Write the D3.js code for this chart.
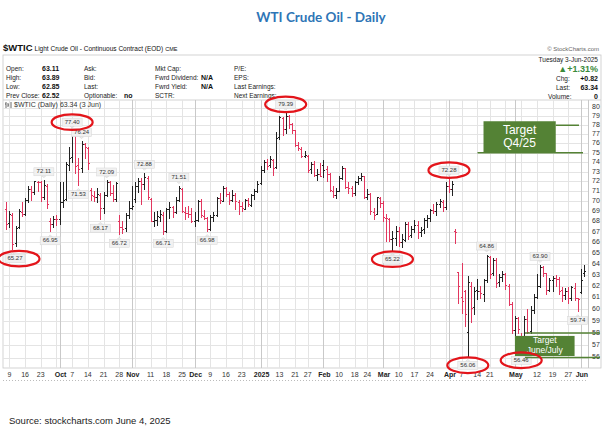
<!DOCTYPE html>
<html>
<head>
<meta charset="utf-8">
<script src="https://cdn.jsdelivr.net/npm/d3@7"></script>
<style>
  body { margin: 0; background: #fff; }
  svg text { font-family: "Liberation Sans", Arial, sans-serif; }
</style>
</head>
<body>
<div id="chart"></div>
<script>
// ---- data ($WTIC daily OHLC) ----
const dates = [
  "2024-09-06","2024-09-09","2024-09-10","2024-09-11","2024-09-12","2024-09-13","2024-09-16","2024-09-17","2024-09-18","2024-09-19","2024-09-20",
  "2024-09-23","2024-09-24","2024-09-25","2024-09-26","2024-09-27","2024-09-30",
  "2024-10-01","2024-10-02","2024-10-03","2024-10-04","2024-10-07","2024-10-08","2024-10-09","2024-10-10","2024-10-11","2024-10-14","2024-10-15",
  "2024-10-16","2024-10-17","2024-10-18","2024-10-21","2024-10-22","2024-10-23","2024-10-24","2024-10-25","2024-10-28","2024-10-29","2024-10-30","2024-10-31",
  "2024-11-01","2024-11-04","2024-11-05","2024-11-06","2024-11-07","2024-11-08","2024-11-11","2024-11-12","2024-11-13","2024-11-14","2024-11-15",
  "2024-11-18","2024-11-19","2024-11-20","2024-11-21","2024-11-22","2024-11-25","2024-11-26","2024-11-27","2024-11-29",
  "2024-12-02","2024-12-03","2024-12-04","2024-12-05","2024-12-06","2024-12-09","2024-12-10","2024-12-11","2024-12-12","2024-12-13","2024-12-16",
  "2024-12-17","2024-12-18","2024-12-19","2024-12-20","2024-12-23","2024-12-24","2024-12-26","2024-12-27","2024-12-30","2024-12-31",
  "2025-01-02","2025-01-03","2025-01-06","2025-01-07","2025-01-08","2025-01-10","2025-01-13","2025-01-14","2025-01-15","2025-01-16","2025-01-17",
  "2025-01-21","2025-01-22","2025-01-23","2025-01-24","2025-01-27","2025-01-28","2025-01-29","2025-01-30","2025-01-31",
  "2025-02-03","2025-02-04","2025-02-05","2025-02-06","2025-02-07","2025-02-10","2025-02-11","2025-02-12","2025-02-13","2025-02-14","2025-02-18",
  "2025-02-19","2025-02-20","2025-02-21","2025-02-24","2025-02-25","2025-02-26","2025-02-27","2025-02-28",
  "2025-03-03","2025-03-04","2025-03-05","2025-03-06","2025-03-07","2025-03-10","2025-03-11","2025-03-12","2025-03-13","2025-03-14","2025-03-17",
  "2025-03-18","2025-03-19","2025-03-20","2025-03-21","2025-03-24","2025-03-25","2025-03-26","2025-03-27","2025-03-28","2025-03-31",
  "2025-04-01","2025-04-02","2025-04-03","2025-04-04","2025-04-07","2025-04-08","2025-04-09","2025-04-10","2025-04-11","2025-04-14","2025-04-15",
  "2025-04-16","2025-04-17","2025-04-21","2025-04-22","2025-04-23","2025-04-24","2025-04-25","2025-04-28","2025-04-29","2025-04-30",
  "2025-05-01","2025-05-02","2025-05-05","2025-05-06","2025-05-07","2025-05-08","2025-05-09","2025-05-12","2025-05-13","2025-05-14","2025-05-15",
  "2025-05-16","2025-05-19","2025-05-20","2025-05-21","2025-05-22","2025-05-23","2025-05-27","2025-05-28","2025-05-29","2025-05-30",
  "2025-06-02","2025-06-03"
];
const opens = [
  69.15,67.80,68.60,65.90,67.40,68.90,68.70,70.10,71.20,70.90,71.90,
  71.90,70.40,71.50,68.00,67.70,68.20,
  68.20,69.90,70.20,73.60,74.50,77.00,73.60,73.30,75.90,75.50,71.10,
  70.50,70.40,70.60,69.30,70.60,71.90,70.80,70.20,68.00,67.40,67.30,68.60,
  69.30,70.20,71.50,72.00,71.70,72.30,70.20,68.00,68.10,68.40,68.60,
  67.00,69.20,69.40,68.90,70.10,71.20,68.90,68.80,68.70,
  68.00,68.10,70.00,68.50,68.30,67.20,68.40,68.60,70.30,70.00,71.30,
  70.70,70.10,70.60,69.90,69.50,69.20,70.10,69.60,70.60,71.00,
  71.80,73.10,74.00,73.60,74.20,73.40,76.60,78.80,77.50,79.00,78.10,
  77.40,75.80,75.40,74.60,74.60,73.20,73.80,72.60,72.70,
  73.60,73.20,72.70,71.00,70.60,71.00,72.30,73.30,71.40,71.30,70.80,
  71.90,72.30,72.50,70.40,70.70,68.90,68.70,70.30,
  69.80,68.30,68.20,66.30,66.40,67.00,66.00,66.20,67.70,66.60,67.20,
  67.60,66.90,67.20,68.10,68.30,69.10,69.00,69.70,69.90,69.40,
  71.50,71.20,67.00,63.20,61.00,61.50,58.00,62.00,60.10,61.60,61.50,
  61.30,62.50,64.60,63.10,64.30,62.30,62.80,63.00,62.00,60.40,
  58.20,59.20,57.50,57.10,59.10,58.10,59.90,61.00,62.00,63.70,63.10,
  61.60,62.50,62.70,62.60,61.60,61.20,61.50,60.90,61.80,60.90,
  61.40,63.11
];
const highs = [
  69.90,69.00,68.80,67.60,69.20,69.90,70.30,71.50,71.50,72.00,72.00,
  72.00,72.11,71.70,68.30,68.50,68.60,
  71.90,71.90,74.00,75.60,77.40,77.10,74.40,76.24,76.00,75.60,71.30,
  71.00,71.30,70.80,70.90,72.09,72.00,71.60,71.90,68.60,68.00,68.80,70.00,
  71.50,71.90,72.30,72.30,72.88,72.50,70.30,68.90,69.00,69.10,68.90,
  69.30,69.90,69.50,70.40,71.51,71.30,69.40,69.50,69.30,
  68.90,70.10,70.20,69.10,68.40,68.60,68.90,70.40,70.80,71.50,71.40,
  70.90,71.10,70.80,70.10,69.90,70.20,70.30,70.70,71.20,72.00,
  73.60,74.20,74.30,74.70,74.30,77.30,79.00,78.90,79.39,79.10,78.30,
  77.50,76.20,75.60,75.20,74.80,74.00,74.10,73.30,73.90,
  74.20,73.60,72.90,71.50,71.30,72.50,73.60,73.40,71.90,71.50,72.00,
  72.60,72.90,72.60,71.20,70.80,69.30,70.40,70.40,
  70.00,68.70,68.30,67.10,67.60,67.50,66.80,67.90,67.90,67.60,68.10,
  68.00,67.50,68.30,68.60,69.20,69.70,69.90,70.20,70.10,71.90,
  72.28,72.00,67.30,63.30,64.10,61.70,62.90,62.40,61.90,62.60,62.00,
  62.60,64.86,64.70,64.50,64.50,63.10,63.40,63.20,62.20,60.60,
  59.40,59.30,58.00,59.40,60.00,60.30,61.30,63.10,63.90,63.80,63.20,
  62.70,62.90,63.00,62.80,61.90,61.80,61.90,62.00,62.30,61.00,
  63.50,63.89
];
const lows = [
  67.20,67.40,65.27,65.60,67.30,68.40,68.50,69.80,70.00,70.60,70.90,
  69.90,70.10,69.20,66.95,67.40,67.60,
  67.70,69.30,70.00,73.10,73.90,72.80,71.53,72.90,74.30,73.20,70.00,
  69.90,69.80,68.17,68.70,70.40,70.50,69.90,69.90,66.72,66.80,67.00,68.20,
  69.10,69.80,70.80,69.60,71.10,70.10,67.90,67.50,67.60,67.90,66.71,
  66.90,68.20,68.30,68.70,69.90,68.80,68.10,68.30,67.80,
  67.50,67.90,68.30,68.10,66.98,67.10,67.90,68.40,69.70,69.90,70.40,
  69.60,69.90,69.10,68.60,68.90,69.10,69.40,69.40,70.10,70.80,
  71.60,72.90,73.20,73.40,72.60,73.30,76.40,76.80,77.00,77.60,77.00,
  75.60,75.20,74.40,74.40,72.90,72.80,72.40,72.00,72.40,
  72.30,71.90,70.90,70.30,70.20,70.90,72.10,71.20,70.70,70.40,70.50,
  71.60,72.00,70.20,70.10,68.60,68.10,68.60,69.30,
  67.90,66.00,66.00,65.22,65.70,65.60,65.50,66.00,66.20,66.40,66.90,
  66.30,66.50,66.80,67.40,67.90,68.70,68.50,69.30,68.90,69.10,
  70.80,70.50,65.80,60.40,59.60,58.50,56.06,58.80,59.50,60.80,60.90,
  60.60,62.30,62.60,62.90,61.80,61.90,62.40,61.70,60.30,57.90,
  57.40,57.90,56.46,57.00,57.90,57.90,59.60,60.90,61.80,62.80,61.20,
  61.50,61.50,61.90,61.20,60.60,60.80,60.40,60.70,60.70,59.74,
  61.30,62.85
];
const closes = [
  67.67,68.71,65.75,67.31,68.97,68.65,70.09,71.19,70.91,71.95,71.92,
  70.37,71.56,69.69,67.67,68.18,68.17,
  69.83,70.10,73.71,74.38,77.14,73.57,73.24,75.85,75.56,73.83,70.58,
  70.39,70.67,69.22,70.56,71.90,70.77,70.19,71.78,67.38,67.21,68.61,69.26,
  69.49,71.47,71.99,71.69,72.36,70.38,68.04,68.12,68.43,68.70,67.02,
  69.16,69.39,68.87,70.10,71.24,68.94,68.77,68.72,68.00,
  68.10,69.94,68.54,68.30,67.20,68.37,68.59,70.29,70.02,71.29,70.71,
  70.08,70.58,69.91,69.46,69.24,70.10,69.62,70.60,70.99,71.72,
  73.13,73.96,73.56,74.25,73.32,76.57,78.82,77.50,79.00,78.08,77.39,
  75.83,75.44,74.62,74.66,73.17,73.77,72.62,72.73,72.53,
  73.16,72.70,71.03,70.61,71.00,72.32,73.32,71.37,71.29,70.74,71.85,
  72.25,72.48,70.40,70.70,68.93,68.62,70.35,69.76,
  68.37,68.26,66.31,66.36,67.04,66.03,66.25,67.68,66.55,67.18,67.58,
  66.90,67.16,68.07,68.28,69.11,69.00,69.65,69.92,69.36,71.48,
  71.20,71.71,66.95,61.99,60.70,59.58,62.35,60.07,61.50,61.53,61.33,
  62.47,64.68,63.08,64.31,62.27,62.79,63.02,62.05,60.42,58.21,
  59.24,58.29,57.13,59.09,58.07,59.91,61.02,61.95,63.67,63.15,61.62,
  62.49,62.69,62.56,61.57,61.20,61.53,60.89,61.84,60.94,60.79,
  62.52,63.34
];
const firstPrevClose = 69.15;

// right axis
const priceTicks = [56,57,58,59,60,61,62,63,64,65,66,67,68,69,70,71,72,73,74,75,76,77,78,79,80];

// weekly grid lines; month starts drawn darker and labelled in bold
const weekDates = [
  "2024-09-09","2024-09-16","2024-09-23","2024-09-30","2024-10-07","2024-10-14","2024-10-21","2024-10-28",
  "2024-11-04","2024-11-11","2024-11-18","2024-11-25","2024-12-02","2024-12-09","2024-12-16","2024-12-23","2024-12-30",
  "2025-01-06","2025-01-13","2025-01-21","2025-01-27","2025-02-03","2025-02-10","2025-02-18","2025-02-24",
  "2025-03-03","2025-03-10","2025-03-17","2025-03-24","2025-03-31","2025-04-07","2025-04-14","2025-04-21","2025-04-28",
  "2025-05-05","2025-05-12","2025-05-19","2025-05-27","2025-06-02"
];
const monthDates  = ["2024-10-01","2024-11-01","2024-12-02","2025-01-02","2025-02-03","2025-03-03","2025-04-01","2025-05-01","2025-06-02"];
const monthLabels = ["Oct","Nov","Dec","2025","Feb","Mar","Apr","May","Jun"];
const dayTickDates  = ["2024-09-09","2024-09-16","2024-09-23","2024-10-07","2024-10-14","2024-10-21","2024-10-28","2024-11-11","2024-11-18","2024-11-25",
  "2024-12-09","2024-12-16","2024-12-23","2025-01-13","2025-01-21","2025-01-27","2025-02-10","2025-02-18","2025-02-24",
  "2025-03-10","2025-03-17","2025-03-24","2025-04-07","2025-04-14","2025-04-21","2025-05-12","2025-05-19","2025-05-27"];
const dayTickLabels = ["9","16","23","7","14","21","28","11","18","25","9","16","23","13","21","27","10","18","24","10","17","24","7","14","21","12","19","27"];

// swing-high / swing-low price flags
const peakDates   = ["2024-09-24","2024-10-07","2024-10-10","2024-10-22","2024-11-07","2024-11-22","2025-01-15","2025-04-01","2025-04-17","2025-05-13"];
const troughDates = ["2024-09-10","2024-09-26","2024-10-09","2024-10-18","2024-10-28","2024-11-15","2024-12-06","2025-03-06","2025-04-09","2025-05-05","2025-05-30"];
const circledDates = ["2024-10-07","2024-09-10","2025-01-15","2025-03-06","2025-04-01","2025-04-09","2025-05-05"];

// price target zones
const targetNames = [["Target","Q4/25"], ["Target","June/July"]];
const targetHigh  = [78, 58];
const targetLow   = [75, 56];
const targetFrom  = ["2025-04-16", "2025-05-01"];
const targetTo    = ["2025-05-20", "2025-05-29"];

// ---- layout ----
const W = 610, H = 431;
const plot = { left: 3, right: 588, top: 100, bottom: 368 };
const UP = "#222", DOWN = "#e2365e", GREEN = "#548235", CIRCLE = "#e3151b";

const svg = d3.select("#chart").append("svg")
  .attr("width", W).attr("height", H)
  .attr("viewBox", `0 0 ${W} ${H}`);

const x = d3.scalePoint().domain(dates).range([6.2, 584]);
const y = d3.scaleLog().domain([56, 80]).range([357.5, 107.5]);

// title
svg.append("text")
  .attr("x", 321).attr("y", 22)
  .attr("text-anchor", "middle")
  .style("font-family", "Lato, 'Open Sans', sans-serif")
  .style("font-weight", "bold").style("font-size", "13.5px")
  .attr("fill", "#2e75b6")
  .text("WTI Crude Oil - Daily");

// header line
const hdr = svg.append("text").attr("x", 3).attr("y", 51).attr("fill", "#111");
hdr.append("tspan").style("font-weight", "bold").style("font-size", "9.5px").text("$WTIC");
hdr.append("tspan").attr("dx", 2).style("font-size", "6.5px").text("Light Crude Oil - Continuous Contract (EOD)");
hdr.append("tspan").attr("dx", 2).style("font-size", "5.5px").text("CME");
svg.append("text")
  .attr("x", 599).attr("y", 51).attr("text-anchor", "end")
  .style("font-size", "6px").attr("fill", "#666")
  .text("\u00a9 StockCharts.com");

// info panel + plot frame
svg.append("rect")
  .attr("x", 3).attr("y", 55).attr("width", 598).attr("height", plot.bottom - 55)
  .attr("fill", "none").attr("stroke", "#c8c8c8").attr("stroke-width", 0.8);
svg.append("line")
  .attr("x1", 3).attr("x2", 601).attr("y1", plot.top).attr("y2", plot.top)
  .attr("stroke", "#c8c8c8").attr("stroke-width", 0.8);

const rowY = [69, 78, 87, 96];
const panelCols = [
  { x: 6,   labels: ["Open:", "High:", "Low:", "Prev Close:"], vx: 42, values: ["63.11", "63.89", "62.85", "62.52"] },
  { x: 84,  labels: ["Ask:", "Bid:", "Last:", "Optionable:"], vx: 124, values: ["", "", "", "no"] },
  { x: 155, labels: ["Mkt Cap:", "Fwrd Dividend:", "Fwrd Yield:", "SCTR:"], vx: 201, values: ["", "N/A", "N/A", ""] },
  { x: 234, labels: ["P/E:", "EPS:", "Last Earnings:", "Next Earnings:"], vx: 0, values: ["", "", "", ""] }
];
panelCols.forEach(c => {
  c.labels.forEach((t, i) => {
    svg.append("text").attr("x", c.x).attr("y", rowY[i]).attr("dominant-baseline", "middle")
      .style("font-size", "6.5px").attr("fill", "#222").text(t);
    if (c.values[i]) {
      svg.append("text").attr("x", c.vx).attr("y", rowY[i]).attr("dominant-baseline", "middle")
        .style("font-size", "7px").style("font-weight", "bold").attr("fill", "#111").text(c.values[i]);
    }
  });
});

svg.append("text").attr("x", 598).attr("y", 60).attr("text-anchor", "end").attr("dominant-baseline", "middle")
  .style("font-size", "6.5px").attr("fill", "#222").text("Tuesday  3-Jun-2025");
svg.append("text").attr("x", 598).attr("y", 70).attr("text-anchor", "end").attr("dominant-baseline", "middle")
  .style("font-size", "9px").style("font-weight", "bold").attr("fill", "#3a8a3a").text("\u25b2+1.31%");
[["Chg:", "+0.82", 79], ["Last:", "63.34", 88], ["Volume:", "0", 97]].forEach(([l, v, yy]) => {
  svg.append("text").attr("x", l === "Volume:" ? 548 : 556).attr("y", yy).attr("dominant-baseline", "middle")
    .style("font-size", "6.5px").attr("fill", "#222").text(l);
  svg.append("text").attr("x", 598).attr("y", yy).attr("text-anchor", "end").attr("dominant-baseline", "middle")
    .style("font-size", "7px").style("font-weight", "bold").attr("fill", "#111").text(v);
});

// ---- grid ----
const grid = svg.append("g");
priceTicks.forEach(p => {
  grid.append("line")
    .attr("x1", plot.left).attr("x2", plot.right)
    .attr("y1", Math.round(y(p)) + 0.5).attr("y2", Math.round(y(p)) + 0.5)
    .attr("stroke", "#e4e4e4").attr("stroke-width", 1);
  svg.append("text")
    .attr("x", 592).attr("y", y(p)).attr("dominant-baseline", "middle")
    .style("font-size", "7px").attr("fill", "#333").text(p);
});
weekDates.forEach(d => {
  grid.append("line")
    .attr("x1", Math.round(x(d)) + 0.5).attr("x2", Math.round(x(d)) + 0.5)
    .attr("y1", plot.top).attr("y2", plot.bottom)
    .attr("stroke", "#e4e4e4");
});
monthDates.forEach(d => {
  grid.append("line")
    .attr("x1", Math.round(x(d)) + 0.5).attr("x2", Math.round(x(d)) + 0.5)
    .attr("y1", plot.top).attr("y2", plot.bottom)
    .attr("stroke", "#c9c9c9");
});
svg.append("line")
  .attr("x1", plot.right + 0.5).attr("x2", plot.right + 0.5)
  .attr("y1", plot.top).attr("y2", plot.bottom)
  .attr("stroke", "#c8c8c8");

// x labels
dayTickDates.forEach((d, i) => {
  svg.append("text").attr("x", x(d)).attr("y", 377).attr("text-anchor", "middle")
    .style("font-size", "7px").attr("fill", "#333").text(dayTickLabels[i]);
});
monthDates.forEach((d, i) => {
  svg.append("text").attr("x", x(d) + 1).attr("y", 377).attr("text-anchor", "middle")
    .style("font-size", "7px").style("font-weight", "bold").attr("fill", "#222").text(monthLabels[i]);
});
svg.append("line")
  .attr("x1", plot.left).attr("x2", plot.right).attr("y1", 380.5).attr("y2", 380.5)
  .attr("stroke", "#bbb").attr("stroke-dasharray", "1,2");

// legend inside plot
const lg = svg.append("g").attr("transform", "translate(5,105)");
lg.append("path").attr("d", "M1,-3V3M0,-1H1M3,-2V2M3,0H4M6,-3V3")
  .attr("stroke", "#444").attr("stroke-width", 0.8).attr("fill", "none");
lg.append("text").attr("x", 9).attr("y", 0).attr("dominant-baseline", "middle")
  .style("font-size", "7px").attr("fill", "#333").text("$WTIC (Daily) 63.34 (3 Jun)");

// ---- OHLC bars ----
const bars = svg.append("g").attr("shape-rendering", "crispEdges");
dates.forEach((d, i) => {
  const prev = i === 0 ? firstPrevClose : closes[i - 1];
  const col = closes[i] >= prev ? UP : DOWN;
  const cx = Math.round(x(d)) + 0.5;
  bars.append("line").attr("x1", cx).attr("x2", cx)
    .attr("y1", y(highs[i])).attr("y2", y(lows[i])).attr("stroke", col);
  bars.append("line").attr("x1", cx - 1.5).attr("x2", cx)
    .attr("y1", y(opens[i])).attr("y2", y(opens[i])).attr("stroke", col);
  bars.append("line").attr("x1", cx).attr("x2", cx + 1.5)
    .attr("y1", y(closes[i])).attr("y2", y(closes[i])).attr("stroke", col);
});

// ---- price flags ----
const flagPos = {};
function addFlag(d, above) {
  const i = dates.indexOf(d);
  const v = above ? highs[i] : lows[i];
  const bx = x(d);
  const by = above ? y(v) - 8.5 : y(v) + 8.5;
  const cx = Math.max(bx, 15);
  const g = svg.append("g");
  const tip = above ? by + 4 : by - 4;
  g.append("path")
    .attr("d", `M${bx - 2},${tip} L${bx},${above ? tip + 2 : tip - 2} L${bx + 2},${tip} Z`)
    .attr("fill", "#f1f1f1").attr("stroke", "#cfcfcf").attr("stroke-width", 0.5);
  g.append("rect").attr("x", cx - 10).attr("y", by - 4).attr("width", 20).attr("height", 8)
    .attr("fill", "#f1f1f1").attr("stroke", "#d6d6d6").attr("stroke-width", 0.5);
  g.append("text").attr("x", cx).attr("y", by).attr("text-anchor", "middle").attr("dominant-baseline", "middle")
    .style("font-size", "6px").attr("fill", "#333").text(v.toFixed(2));
  flagPos[d] = [cx, by];
}
peakDates.forEach(d => addFlag(d, true));
troughDates.forEach(d => addFlag(d, false));

// ---- target zones ----
targetNames.forEach((names, k) => {
  const x0 = x(targetFrom[k]), x1 = x(targetTo[k]);
  const big = k === 0;
  const top = big ? y(targetHigh[k]) - 4 : y(targetHigh[k]) + 3;
  const bot = big ? y(targetLow[k]) : y(targetLow[k]) - 1.5;
  svg.append("line")
    .attr("x1", big ? x1 : x0 + 10).attr("x2", big ? 579 : 600)
    .attr("y1", y(targetHigh[k])).attr("y2", y(targetHigh[k]))
    .attr("stroke", GREEN).attr("stroke-width", 1.5);
  svg.append("line")
    .attr("x1", big ? x0 - 6 : x0 + 10).attr("x2", big ? 583 : 600)
    .attr("y1", y(targetLow[k])).attr("y2", y(targetLow[k]))
    .attr("stroke", GREEN).attr("stroke-width", 1.5);
  svg.append("rect").attr("x", x0).attr("y", top).attr("width", x1 - x0).attr("height", bot - top)
    .attr("fill", GREEN);
  const fs = big ? 12 : 8.5;
  const lineY = big ? [0.3, 0.72] : [0.22, 0.75];
  names.forEach((t, j) => {
    svg.append("text").attr("x", (x0 + x1) / 2)
      .attr("y", top + (bot - top) * lineY[j])
      .attr("text-anchor", "middle").attr("dominant-baseline", "middle")
      .style("font-size", `${fs}px`).attr("fill", "#fff").text(t);
  });
});

// ---- hand-drawn style circles around key flags ----
circledDates.forEach(d => {
  const [cx, cy] = flagPos[d];
  svg.append("ellipse")
    .attr("cx", Math.max(cx, 19)).attr("cy", cy)
    .attr("rx", 20.5).attr("ry", 7.8)
    .attr("fill", "none").attr("stroke", CIRCLE).attr("stroke-width", 2.2);
});

// source note
svg.append("text").attr("x", 9).attr("y", 424)
  .style("font-size", "9.5px").attr("fill", "#222")
  .text("Source: stockcharts.com June 4, 2025");
</script>
</body>
</html>
